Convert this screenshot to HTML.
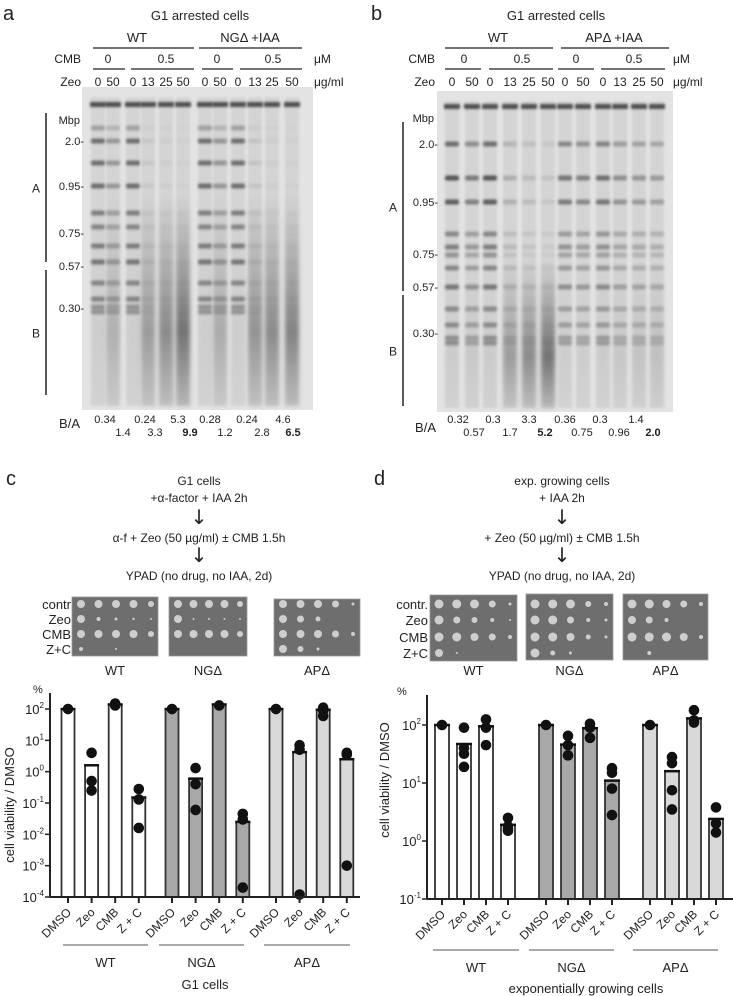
<!DOCTYPE html>
<html><head><meta charset="utf-8">
<style>
html,body{margin:0;padding:0;background:#fff;}
body{width:733px;height:996px;overflow:hidden;position:relative;font-family:"Liberation Sans",Arial,sans-serif;}
svg{position:absolute;left:0;top:0;}
</style></head>
<body>
<svg id="fig" width="733" height="996" viewBox="0 0 733 996" xmlns="http://www.w3.org/2000/svg" font-family="Liberation Sans, Arial, sans-serif">
<defs>
<filter id="blur" x="-20%" y="-50%" width="140%" height="200%"><feGaussianBlur stdDeviation="1.4"/></filter>
<filter id="blur2" x="-30%" y="-10%" width="160%" height="120%"><feGaussianBlur stdDeviation="2.5"/></filter>
<linearGradient id="smearA" x1="0" y1="0" x2="0" y2="1">
<stop offset="0" stop-color="#333" stop-opacity="0"/>
<stop offset="0.65" stop-color="#333" stop-opacity="1"/>
<stop offset="1" stop-color="#333" stop-opacity="0.3"/>
</linearGradient>
</defs>
<g id="panelA"></g>
<g id="panelB"></g>
<g id="panelCD"></g>
<g id="chartC"></g>
<g id="chartD"></g>
</svg>
<script>
const NS="http://www.w3.org/2000/svg";
function el(parent,tag,attrs,text){const e=document.createElementNS(NS,tag);for(const k in attrs)e.setAttribute(k,attrs[k]);if(text!==undefined)e.textContent=text;parent.appendChild(e);return e;}
function txt(parent,x,y,s,size,anchor,name,extra){const t=el(parent,'text',Object.assign({x:x,y:y,'font-size':size,'text-anchor':anchor||'start',fill:'#222'},extra||{}),s);


return t;}
function line(parent,x1,y1,x2,y2,w,name,col){const l=el(parent,'line',{x1:x1,y1:y1,x2:x2,y2:y2,stroke:col||'#222','stroke-width':w});


return l;}

/* ---------- GEL DATA ---------- */
const gelALanesX=[98,113,133,148,166,183,205,220,238,255,272,292];
const gelABandY=[128,141,163,186,213,227,246,262,283,299,307,312];
const gelABandStrength=[0.3,0.6,0.6,0.6,0.5,0.45,0.5,0.55,0.45,0.45,0.35,0.35];
const gelALaneFactor=[1,0.6,1,0.12,0.06,0.04,1,0.6,1,0.15,0.06,0.04];
const gelASmear=[0.04,0.22,0.04,0.35,0.45,0.6,0.04,0.25,0.04,0.4,0.45,0.5];
const gelAZeo=["0","50","0","13","25","50","0","50","0","13","25","50"];
const gelARatio1=[["0.34",105],["0.24",145],["5.3",178],["0.28",210],["0.24",247],["4.6",283]];
const gelARatio2=[["1.4",123,0],["3.3",155,0],["9.9",190,1],["1.2",225,0],["2.8",262,0],["6.5",293,1]];

const gelBLanesX=[452,472,490,510,529,548,565,583,603,620,639,657];
const gelBBandY=[144,178,202,234,247,255,268,287,309,325,338,343];
const gelBBandStrength=[0.6,0.75,0.7,0.45,0.5,0.38,0.45,0.55,0.42,0.42,0.38,0.38];
const gelBLaneFactor=[1,0.7,1,0.3,0.2,0.12,0.75,0.65,0.8,0.55,0.5,0.45];
const gelBSmear=[0.05,0.07,0.05,0.35,0.45,0.6,0.04,0.04,0.05,0.08,0.1,0.12];
const gelBRatio1=[["0.32",458],["0.3",493],["3.3",529],["0.36",565],["0.3",600],["1.4",636]];
const gelBRatio2=[["0.57",474,0],["1.7",510,0],["5.2",545,1],["0.75",582,0],["0.96",619,0],["2.0",653,1]];

function drawGel(g,opt){
  txt(g,opt.letterX,20,opt.letter,20,'start','panel-letter-'+opt.letter);
  txt(g,opt.titleX,20,'G1 arrested cells',13,'middle','gel-title');
  opt.strains.forEach(s=>{txt(g,s.cx,42,s.label,13,'middle','strain-label');line(g,s.x1,48,s.x2,48,1.2,'strain-underline');});
  txt(g,opt.rowLabelX,63,'CMB',12,'end','cmb-row-label');
  txt(g,opt.rowLabelX,86,'Zeo',12,'end','zeo-row-label');
  opt.cmb.forEach(c=>{txt(g,c.cx,63,c.label,12,'middle','cmb-conc');line(g,c.x1,69,c.x2,69,1.2,'cmb-underline');});
  txt(g,opt.unitX,63,'\u03BCM',12,'start','cmb-unit');
  txt(g,opt.unitX,86,'\u03BCg/ml',12,'start','zeo-unit');
  opt.lanes.forEach((x,i)=>txt(g,x,86,gelAZeo[i],12,'middle','zeo-conc'));
  const bg=el(g,'rect',{x:opt.gx,y:opt.gy,width:opt.gw,height:opt.gh,fill:'#e3e3e3'});
  
  
  opt.lanes.forEach((x,i)=>{
    const ln=el(g,'rect',{x:x-7,y:opt.gy+10,width:14,height:opt.gh-14,fill:'#d4d4d4',filter:'url(#blur)'});
    
    
    const sm=el(g,'rect',{x:x-7,y:opt.smearTop,width:14,height:opt.gy+opt.gh-opt.smearTop-4,fill:'url(#smearA)',opacity:opt.smear[i],filter:'url(#blur2)'});
    
    
    const w=el(g,'rect',{x:x-8,y:opt.wellY-2,width:16,height:5,fill:'#222',opacity:0.75,filter:'url(#blur)'});
    
    
    opt.bandY.forEach((by,j)=>{
      const b=el(g,'rect',{x:x-7,y:by-2.5,width:14,height:5,rx:2,fill:'#2a2a2a',opacity:opt.bandS[j]*opt.factor[i],filter:'url(#blur)'});
      
      
    });
  });
  txt(g,opt.mbpX,opt.mbp[0][1]+4,'Mbp',11,'end','mbp-label');
  opt.mbp.slice(1).forEach(m=>txt(g,opt.mbpX+4,m[1]+4,m[0]+'-',11,'end','size-marker'));
  line(g,opt.brX,opt.aTop,opt.brX,opt.aBot,1.5,'bracket-a');
  line(g,opt.brX,opt.bTop,opt.brX,opt.bBot,1.5,'bracket-b');
  txt(g,opt.brX-10,(opt.aTop+opt.aBot)/2+5,'A',12,'middle','bracket-a-label');
  txt(g,opt.brX-10,(opt.bTop+opt.bBot)/2+5,'B',12,'middle','bracket-b-label');
  txt(g,opt.baX,opt.baY,'B/A',13,'end','ba-label');
  opt.r1.forEach(r=>txt(g,r[1],423,r[0],11,'middle','ba-ratio'));
  opt.r2.forEach(r=>txt(g,r[1],436,r[0],11,'middle','ba-ratio',r[2]?{'font-weight':'bold'}:{}));
}
drawGel(document.getElementById('panelA'),{letter:'a',letterX:3,titleX:200,
 strains:[{cx:137,label:'WT',x1:93,x2:194},{cx:250,label:'NG\u0394 +IAA',x1:199,x2:302}],
 rowLabelX:81,cmb:[{cx:108,label:'0',x1:93,x2:125},{cx:166,label:'0.5',x1:131,x2:194},{cx:217,label:'0',x1:202,x2:233},{cx:273,label:'0.5',x1:240,x2:302}],
 unitX:314,lanes:gelALanesX,gx:82,gy:87,gw:231,gh:323,smearTop:195,wellY:104,bandY:gelABandY,bandS:gelABandStrength,factor:gelALaneFactor,smear:gelASmear,
 mbpX:80,mbp:[['Mbp',120],['2.0',141],['0.95',186],['0.75',233],['0.57',266],['0.30',308]],brX:46,aTop:113,aBot:262,bTop:270,bBot:395,
 baX:80,baY:428,r1:gelARatio1,r2:gelARatio2});
drawGel(document.getElementById('panelB'),{letter:'b',letterX:371,titleX:556,
 strains:[{cx:498,label:'WT',x1:445,x2:553},{cx:614,label:'AP\u0394 +IAA',x1:561,x2:669}],
 rowLabelX:435,cmb:[{cx:464,label:'0',x1:445,x2:481},{cx:522,label:'0.5',x1:489,x2:553},{cx:576,label:'0',x1:558,x2:594},{cx:634,label:'0.5',x1:601,x2:665}],
 unitX:673,lanes:gelBLanesX,gx:437,gy:91,gw:236,gh:321,smearTop:260,wellY:106,bandY:gelBBandY,bandS:gelBBandStrength,factor:gelBLaneFactor,smear:gelBSmear,
 mbpX:434,mbp:[['Mbp',118],['2.0',144],['0.95',202],['0.75',254],['0.57',287],['0.30',333]],brX:403,aTop:122,aBot:291,bTop:295,bBot:406,
 baX:436,baY:432,r1:gelBRatio1,r2:gelBRatio2});

/* ---------- SCHEMES & PLATES ---------- */
const pc=document.getElementById('panelCD');
txt(pc,6,485,'c',20,'start','panel-letter-c');
txt(pc,374,485,'d',20,'start','panel-letter-d');
const schemeC=['G1 cells','+\u03B1-factor + IAA 2h','\u2193','\u03B1-f + Zeo (50 \u00B5g/ml) \u00B1 CMB 1.5h','\u2193','YPAD (no drug, no IAA, 2d)'];
const schemeD=['exp. growing cells','+ IAA 2h','\u2193','+  Zeo (50 \u00B5g/ml) \u00B1 CMB 1.5h','\u2193','YPAD (no drug, no IAA, 2d)'];
const schemeY=[485,502,524,542,562,580];
schemeC.forEach((s,i)=>txt(pc,199,schemeY[i],s,s==='\u2193'?20:12,'middle','scheme-c-step',s==='\u2193'?{'font-family':'DejaVu Sans, sans-serif'}:{}));
schemeD.forEach((s,i)=>txt(pc,562,schemeY[i],s,s==='\u2193'?20:12,'middle','scheme-d-step',s==='\u2193'?{'font-family':'DejaVu Sans, sans-serif'}:{}));
const rowLabels=['contr','Zeo','CMB','Z+C'];
const rowLabelsD=['contr.','Zeo','CMB','Z+C'];
const platesC=[
 {x:72,y:597,w:86,h:59,name:'WT',spots:[[4,4,4,4,3],[4,2,1.5,1.2,1],[4,4,4,4,3],[2,0,1,0,0]]},
 {x:169,y:597,w:78,h:59,name:'NG\u0394',spots:[[4,4,4,4,3],[4,1,1,1,1],[4,4,4,4,3],[0,0,0,0,0]]},
 {x:274,y:599,w:86,h:57,name:'AP\u0394',spots:[[4,4,4,3.5,1.5],[4,3.5,2.5,0,0],[4,4,4,3.5,2],[4,3,1.5,0,0]]}];
const platesD=[
 {x:430,y:595,w:87,h:66,name:'WT',spots:[[4.5,4.5,4.5,3.5,1.5],[4.5,3.5,3,2,1],[4.5,4.5,4,3.5,2],[4,1,0,0,0]]},
 {x:526,y:594,w:87,h:66,name:'NG\u0394',spots:[[4.5,4.5,4.5,3,2],[4.5,4.5,3.5,2,1.5],[4.5,4.5,4,2.5,1.5],[4.5,2.5,1.5,0,0]]},
 {x:623,y:594,w:85,h:66,name:'AP\u0394',spots:[[4.5,4.5,4,3.5,2],[4,3.5,2,0,0],[4.5,4.5,4.5,4,2],[0,2,0,0,0]]}];
function drawPlates(plates,labels,labelX,rowsY,nameY){
  labels.forEach((l,i)=>txt(pc,labelX,rowsY[i]+5,l,13,'end','plate-row-label'));
  plates.forEach(p=>{
    const r=el(pc,'rect',{x:p.x,y:p.y,width:p.w,height:p.h,fill:'#6e6e6e',stroke:'#999','stroke-width':0.8});
    
    
    const step=(p.w-16)/4;
    p.spots.forEach((row,ri)=>row.forEach((rad,ci)=>{if(rad<=0)return;
      const c=el(pc,'circle',{cx:p.x+9+ci*step,cy:rowsY[ri],r:rad,fill:'#d8d8d8',opacity:0.9});
      
      }));
    txt(pc,p.x+p.w/2,nameY,p.name,13,'middle','plate-strain-label');
  });
}
drawPlates(platesC,rowLabels,71,[604,619,634,649],675);
drawPlates(platesD,rowLabelsD,428,[604,620,637,653],675);

/* ---------- BAR CHARTS ---------- */
const categories=['DMSO','Zeo','CMB','Z + C'];
const groups=['WT','NG\u0394','AP\u0394'];
const groupFill=['#ffffff','#a8a8a8','#d9d9d9'];
// chart c (G1 cells)
const cMeans=[[100,1.6,140,0.15],[100,0.6,140,0.025],[100,4.2,95,2.5]];
const cDots=[
 [[100],[4,0.5,0.25],[150,130],[0.28,0.13,0.016]],
 [[100],[1.3,0.4,0.06],[130],[0.045,0.03,0.0002]],
 [[100],[7,5,0.00012],[110,90,60],[4,3.5,0.001]]];
const cTicks=[-4,-3,-2,-1,0,1,2];
// chart d (exponentially growing)
const dMeans=[[100,47,95,1.9],[100,46,88,11],[100,16,130,2.4]];
const dDots=[
 [[100],[90,40,32,19],[125,90,45],[2.5,1.8,1.6,1.5]],
 [[100],[65,45,30],[105,90,60],[18,15,8,2.8]],
 [[100],[28,22,7.5,3.5],[180,120,110],[3.8,2.0,1.4]]];
const dTicks=[-1,0,1,2];

function drawChart(g,o){
  const y=v=>o.y0-(Math.log10(v)-o.minExp)*o.perDec;
  const xpos=(gi,ci)=>o.x0+gi*o.groupStep+ci*o.catStep;
  o.means.forEach((arr,gi)=>arr.forEach((v,ci)=>{
    const cx=xpos(gi,ci);
    const b=el(g,'rect',{x:cx-o.bw/2,y:y(v),width:o.bw,height:o.y0-y(v),fill:groupFill[gi],stroke:'#333','stroke-width':1.8});
    
    
    line(g,cx-o.bw/2-1,y(v),cx+o.bw/2+1,y(v),2.5,'bar-mean-line','#111');
    o.dots[gi][ci].forEach(d=>{
      const c=el(g,'circle',{cx:cx,cy:y(d),r:5.3,fill:'#111'});
      
      
    });
    line(g,cx,o.y0,cx,o.y0+6,2,'x-tick');
    txt(g,cx+4,o.y0+16,categories[ci],12,'end','x-tick-label',{transform:'rotate(-45 '+(cx+4)+' '+(o.y0+16)+')'});
  }));
  line(g,o.ax,o.top,o.ax,o.y0,2,'y-axis');
  line(g,o.ax,o.y0,o.xEnd,o.y0,2,'x-axis');
  o.ticks.forEach(e=>{
    const ty=o.y0-(e-o.minExp)*o.perDec;
    line(g,o.ax-5,ty,o.ax,ty,1.5,'y-tick');
    const t=txt(g,o.ax-6,ty+5,'',13,'end','y-tick-label');
    el(t,'tspan',{},'10');
    el(t,'tspan',{dy:-6,'font-size':8},String(e));
  });
  txt(g,o.pctX,o.top,'%',11,'start','y-unit-label');
  txt(g,o.ytX,o.ytY,'cell viability / DMSO',13,'middle','y-axis-title',{transform:'rotate(-90 '+o.ytX+' '+o.ytY+')'});
  o.groupLines.forEach((gl,gi)=>{line(g,gl[0],o.glY,gl[1],o.glY,1,'group-underline','#555');
    txt(g,(gl[0]+gl[1])/2,o.glY+22,groups[gi],13,'middle','group-label');});
  txt(g,o.capX,o.capY,o.caption,13,'middle','x-axis-title');
}
drawChart(document.getElementById('chartC'),{means:cMeans,dots:cDots,ticks:cTicks,minExp:-4,y0:897,perDec:31.33,
  x0:68,groupStep:104,catStep:23.6,bw:13,ax:50,top:693,xEnd:360,pctX:33,ytX:14,ytY:805,
  groupLines:[[63,148],[159,244],[264,350]],glY:945,capX:205,capY:989,caption:'G1 cells'});
drawChart(document.getElementById('chartD'),{means:dMeans,dots:dDots,ticks:dTicks,minExp:-1,y0:899,perDec:58,
  x0:442,groupStep:104,catStep:22,bw:14,ax:427,top:695,xEnd:733,pctX:397,ytX:389,ytY:780,
  groupLines:[[433,519],[529,614],[633,718]],glY:950,capX:586,capY:993,caption:'exponentially growing cells'});
</script>
</body></html>
